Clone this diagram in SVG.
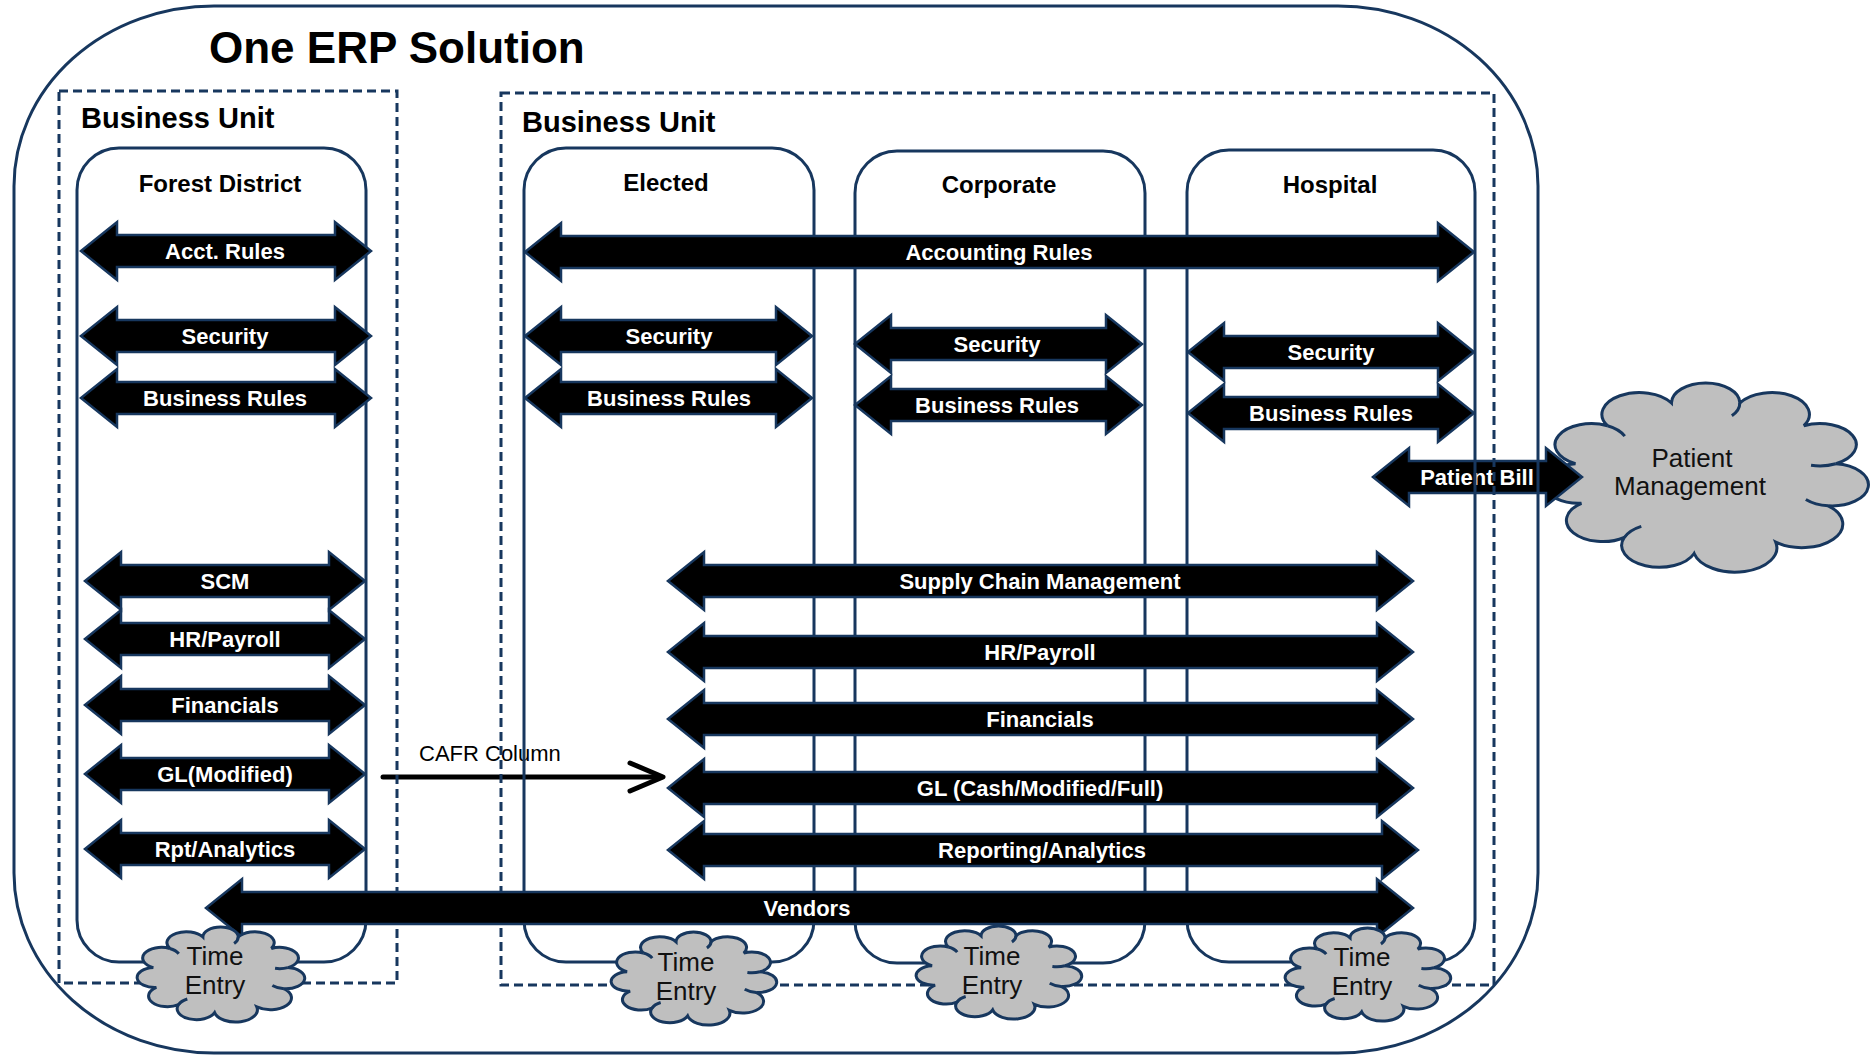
<svg xmlns="http://www.w3.org/2000/svg" width="1873" height="1056" viewBox="0 0 1873 1056">
  <style>
    .frame { fill: none; stroke: #17375E; stroke-width: 3; }
    .unit { fill: none; stroke: #17375E; stroke-width: 3; stroke-dasharray: 9 5; }
    .lane { fill: none; stroke: #17375E; stroke-width: 3; }
    .band { fill: #000; stroke: #17375E; stroke-width: 2.5; stroke-linejoin: miter; }
    .band-label { fill: #fff; font-family: "Liberation Sans", Arial, sans-serif; font-weight: bold; font-size: 22px; text-anchor: middle; }
    .lane-label { fill: #000; font-family: "Liberation Sans", Arial, sans-serif; font-weight: bold; font-size: 24px; text-anchor: middle; }
    .unit-label { fill: #000; font-family: "Liberation Sans", Arial, sans-serif; font-weight: bold; font-size: 29px; }
    .title { fill: #000; font-family: "Liberation Sans", Arial, sans-serif; font-weight: bold; font-size: 44px; }
    .cloud-shape { fill: #BFBFBF; stroke: #17375E; stroke-width: 3; }
    .cloud-hook { fill: none; stroke: #17375E; stroke-width: 3; }
    .cloud-label { fill: #111; font-family: "Liberation Sans", Arial, sans-serif; font-size: 26px; text-anchor: middle; }
    .conn { fill: none; stroke: #000; stroke-width: 5; stroke-linecap: round; stroke-linejoin: round; }
    .conn-label { fill: #000; font-family: "Liberation Sans", Arial, sans-serif; font-size: 22px; }
  </style>
  <defs>
    <!-- cloud outline drawn in a 100x100 box; strokes keep a constant width when scaled -->
    <g id="cloud">
      <path class="cloud-shape" vector-effect="non-scaling-stroke" d="M11.59,43.23 A10,10 0 0 1 21.02,23.90 A10,10 0 0 1 39.91,12.33 A10,10 0 0 1 60.09,12.33 A10,10 0 0 1 78.98,23.90 A10,10 0 0 1 88.41,43.23 A10,10 0 0 1 86.16,64.61 A10,10 0 0 1 70.67,83.07 A10,10 0 0 1 46.60,88.85 A10,10 0 0 1 25.99,80.73 A10,10 0 0 1 13.35,63.34 A10,10 0 0 1 11.59,43.23 Z"/>
      <path class="cloud-hook" vector-effect="non-scaling-stroke" d="M21.02,23.90 A10.75,10.75 0 0 1 26.13,29.20 M60.09,12.33 A10.09,10.09 0 0 1 57.73,18.82 M88.41,43.23 A10.75,10.75 0 0 1 81.10,44.00 M86.16,64.61 A10.75,10.75 0 0 1 79.56,61.39 M25.99,80.73 A11.08,11.08 0 0 1 31.01,75.05"/>
    </g>
  </defs>

  <rect width="1873" height="1056" fill="#fff"/>

  <!-- external system -->
  <g id="patient-management">
    <use href="#cloud" transform="translate(1536.2,378.7) scale(3.389,1.967)"/>
    <text class="cloud-label" x="1692" y="467">Patient</text>
    <text class="cloud-label" x="1690" y="495">Management</text>
  </g>

  <g id="patient-bill">
    <path class="band" d="M1373,477 L1409,448 V461 H1546 V448 L1582,477 L1546,506 V493 H1409 V506 Z"/>
    <text class="band-label" x="1477" y="485">Patient Bill</text>
  </g>

  <!-- CAFR reporting link -->
  <g id="connectors">
    <g id="cafr-column">
      <path class="conn" d="M383,777 H661"/>
      <path class="conn" d="M630,763 L663,777 L630,791"/>
      <text class="conn-label" x="419" y="761">CAFR Column</text>
    </g>
  </g>

  <!-- containers -->
  <g id="one-erp">
    <rect class="frame" x="14" y="6" width="1524" height="1047" rx="200" ry="180"/>
    <text class="title" x="209" y="63">One ERP Solution</text>
  </g>

  <g id="unit-left">
    <rect class="unit" x="59" y="91" width="338" height="892"/>
    <text class="unit-label" x="81" y="128">Business Unit</text>
  </g>
  <g id="unit-right">
    <rect class="unit" x="501" y="93" width="993" height="892"/>
    <text class="unit-label" x="522" y="132">Business Unit</text>
  </g>

  <g id="lane-forest-district">
    <rect class="lane" x="77" y="148" width="289" height="814" rx="42" ry="42"/>
    <text class="lane-label" x="220" y="192">Forest District</text>
  </g>
  <g id="lane-elected">
    <rect class="lane" x="524" y="148" width="290" height="814" rx="42" ry="42"/>
    <text class="lane-label" x="666" y="191">Elected</text>
  </g>
  <g id="lane-corporate">
    <rect class="lane" x="855" y="151" width="290" height="812" rx="42" ry="42"/>
    <text class="lane-label" x="999" y="193">Corporate</text>
  </g>
  <g id="lane-hospital">
    <rect class="lane" x="1187" y="150" width="288" height="812" rx="42" ry="42"/>
    <text class="lane-label" x="1330" y="193">Hospital</text>
  </g>

  <!-- shared and per-lane functions -->
  <g id="fd-acct-rules">
    <path class="band" d="M81,251 L117,222 V235 H335 V222 L371,251 L335,280 V267 H117 V280 Z"/>
    <text class="band-label" x="225" y="259">Acct. Rules</text>
  </g>
  <g id="fd-security">
    <path class="band" d="M81,336 L117,307 V320 H335 V307 L371,336 L335,365 V352 H117 V365 Z"/>
    <text class="band-label" x="225" y="344">Security</text>
  </g>
  <g id="fd-business-rules">
    <path class="band" d="M81,398 L117,369 V382 H335 V369 L371,398 L335,427 V414 H117 V427 Z"/>
    <text class="band-label" x="225" y="406">Business Rules</text>
  </g>
  <g id="fd-scm">
    <path class="band" d="M85,581 L121,552 V565 H329 V552 L365,581 L329,610 V597 H121 V610 Z"/>
    <text class="band-label" x="225" y="589">SCM</text>
  </g>
  <g id="fd-hr-payroll">
    <path class="band" d="M85,639 L121,610 V623 H329 V610 L365,639 L329,668 V655 H121 V668 Z"/>
    <text class="band-label" x="225" y="647">HR/Payroll</text>
  </g>
  <g id="fd-financials">
    <path class="band" d="M85,705 L121,676 V689 H329 V676 L365,705 L329,734 V721 H121 V734 Z"/>
    <text class="band-label" x="225" y="713">Financials</text>
  </g>
  <g id="fd-gl">
    <path class="band" d="M85,774 L121,745 V758 H329 V745 L365,774 L329,803 V790 H121 V803 Z"/>
    <text class="band-label" x="225" y="782">GL(Modified)</text>
  </g>
  <g id="fd-rpt">
    <path class="band" d="M85,849 L121,820 V833 H329 V820 L365,849 L329,878 V865 H121 V878 Z"/>
    <text class="band-label" x="225" y="857">Rpt/Analytics</text>
  </g>

  <g id="accounting-rules">
    <path class="band" d="M525,252 L561,223 V236 H1438 V223 L1474,252 L1438,281 V268 H561 V281 Z"/>
    <text class="band-label" x="999" y="260">Accounting Rules</text>
  </g>
  <g id="el-security">
    <path class="band" d="M525,336 L561,307 V320 H776 V307 L812,336 L776,365 V352 H561 V365 Z"/>
    <text class="band-label" x="669" y="344">Security</text>
  </g>
  <g id="el-business-rules">
    <path class="band" d="M525,398 L561,369 V382 H776 V369 L812,398 L776,427 V414 H561 V427 Z"/>
    <text class="band-label" x="669" y="406">Business Rules</text>
  </g>
  <g id="co-security">
    <path class="band" d="M855,344 L891,315 V328 H1106 V315 L1142,344 L1106,373 V360 H891 V373 Z"/>
    <text class="band-label" x="997" y="352">Security</text>
  </g>
  <g id="co-business-rules">
    <path class="band" d="M855,405 L891,376 V389 H1106 V376 L1142,405 L1106,434 V421 H891 V434 Z"/>
    <text class="band-label" x="997" y="413">Business Rules</text>
  </g>
  <g id="ho-security">
    <path class="band" d="M1188,352 L1224,323 V336 H1438 V323 L1474,352 L1438,381 V368 H1224 V381 Z"/>
    <text class="band-label" x="1331" y="360">Security</text>
  </g>
  <g id="ho-business-rules">
    <path class="band" d="M1188,413 L1224,384 V397 H1438 V384 L1474,413 L1438,442 V429 H1224 V442 Z"/>
    <text class="band-label" x="1331" y="421">Business Rules</text>
  </g>

  <g id="scm">
    <path class="band" d="M668,581 L704,552 V565 H1377 V552 L1413,581 L1377,610 V597 H704 V610 Z"/>
    <text class="band-label" x="1040" y="589">Supply Chain Management</text>
  </g>
  <g id="hr-payroll">
    <path class="band" d="M668,652 L704,623 V636 H1377 V623 L1413,652 L1377,681 V668 H704 V681 Z"/>
    <text class="band-label" x="1040" y="660">HR/Payroll</text>
  </g>
  <g id="financials">
    <path class="band" d="M668,719 L704,690 V703 H1377 V690 L1413,719 L1377,748 V735 H704 V748 Z"/>
    <text class="band-label" x="1040" y="727">Financials</text>
  </g>
  <g id="gl">
    <path class="band" d="M668,788 L704,759 V772 H1377 V759 L1413,788 L1377,817 V804 H704 V817 Z"/>
    <text class="band-label" x="1040" y="796">GL (Cash/Modified/Full)</text>
  </g>
  <g id="reporting">
    <path class="band" d="M668,850 L704,821 V834 H1382 V821 L1418,850 L1382,879 V866 H704 V879 Z"/>
    <text class="band-label" x="1042" y="858">Reporting/Analytics</text>
  </g>
  <g id="vendors">
    <path class="band" d="M206,908 L242,879 V892 H1377 V879 L1413,908 L1377,937 V924 H242 V937 Z"/>
    <text class="band-label" x="807" y="916">Vendors</text>
  </g>

  <!-- time entry per lane -->
  <g id="time-entry-fd">
    <use href="#cloud" transform="translate(132.97,924.82) scale(1.752,0.989)"/>
    <text class="cloud-label" x="215" y="965">Time</text>
    <text class="cloud-label" x="215" y="994">Entry</text>
  </g>
  <g id="time-entry-el">
    <use href="#cloud" transform="translate(607,929.9) scale(1.731,0.968)"/>
    <text class="cloud-label" x="686" y="971">Time</text>
    <text class="cloud-label" x="686" y="1000">Entry</text>
  </g>
  <g id="time-entry-co">
    <use href="#cloud" transform="translate(912,923.9) scale(1.731,0.968)"/>
    <text class="cloud-label" x="992" y="965">Time</text>
    <text class="cloud-label" x="992" y="994">Entry</text>
  </g>
  <g id="time-entry-ho">
    <use href="#cloud" transform="translate(1281,925.9) scale(1.731,0.968)"/>
    <text class="cloud-label" x="1362" y="966">Time</text>
    <text class="cloud-label" x="1362" y="995">Entry</text>
  </g>
</svg>
